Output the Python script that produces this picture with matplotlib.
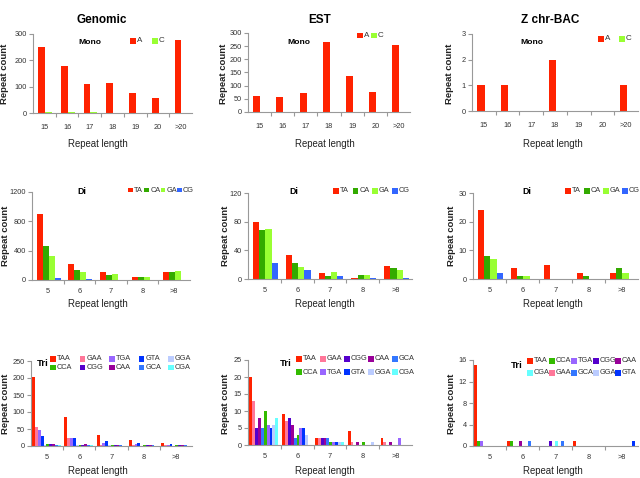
import matplotlib
matplotlib.use("Agg")
import matplotlib.pyplot as plt
from matplotlib.patches import Rectangle
from matplotlib import font_manager
import numpy as np

_names = {f.name for f in font_manager.fontManager.ttflist}
_fam = 'Liberation Sans Narrow' if 'Liberation Sans Narrow' in _names else 'Liberation Sans'
plt.rcParams['font.family'] = [_fam, 'DejaVu Sans']
NARROW = _fam == 'Liberation Sans Narrow'
K = 1.0 if NARROW else 0.85

W, H = 640, 478

# ---------------- data ----------------
mono_cats = ['15', '16', '17', '18', '19', '20', '>20']
len_cats = ['5', '6', '7', '8', '>8']

genomic_mono_A = [250, 177, 110, 115, 75, 57, 278]
genomic_mono_C = [2, 2, 2, 0, 0, 0, 0]
est_mono_A = [60, 57, 72, 267, 137, 75, 255]
est_mono_C = [0, 0, 0, 0, 0, 0, 0]
z_mono_A = [1, 1, 0, 2, 0, 0, 1]
z_mono_C = [0, 0, 0, 0, 0, 0, 0]

di_names = ['TA', 'CA', 'GA', 'CG']
genomic_di_TA = [904, 215, 105, 46, 114]
genomic_di_CA = [466, 137, 68, 36, 114]
genomic_di_GA = [324, 105, 78, 46, 128]
genomic_di_CG = [27, 10, 0, 0, 0]
est_di_TA = [80, 33, 9, 2, 18]
est_di_CA = [69, 23, 4, 6, 15]
est_di_GA = [70, 17, 10, 6, 12]
est_di_CG = [22, 12, 4, 1, 1]
z_di_TA = [24, 4, 5, 2, 2]
z_di_CA = [8, 1, 0, 1, 4]
z_di_GA = [7, 1, 0, 0, 2]
z_di_CG = [2, 0, 0, 0, 0]

genomic_tri_order = ['TAA', 'GAA', 'TGA', 'GTA', 'GGA', 'CCA', 'CGG', 'CAA', 'GCA', 'CGA']
genomic_tri_TAA = [203, 84, 32, 18, 10]
genomic_tri_GAA = [57, 23, 4, 2, 2]
genomic_tri_TGA = [47, 23, 9, 5, 4]
genomic_tri_GTA = [30, 24, 14, 9, 6]
genomic_tri_GGA = [3, 2, 2, 1, 1]
genomic_tri_CCA = [6, 3, 3, 2, 2]
genomic_tri_CGG = [6, 4, 3, 3, 3]
genomic_tri_CAA = [6, 6, 3, 3, 3]
genomic_tri_GCA = [3, 4, 2, 2, 2]
genomic_tri_CGA = [2, 3, 1, 1, 1]

est_tri_order = ['TAA', 'GAA', 'CGG', 'CAA', 'GCA', 'CCA', 'TGA', 'GTA', 'GGA', 'CGA']
est_tri_TAA = [20, 9, 2, 4, 2]
est_tri_GAA = [13, 7, 2, 1, 1]
est_tri_CGG = [5, 8, 2, 0, 0]
est_tri_CAA = [8, 6, 2, 1, 1]
est_tri_GCA = [5, 2, 2, 0, 0]
est_tri_CCA = [10, 3, 1, 1, 0]
est_tri_TGA = [6, 5, 1, 0, 2]
est_tri_GTA = [5, 5, 1, 0, 0]
est_tri_GGA = [6, 3, 1, 1, 0]
est_tri_CGA = [8, 0, 1, 0, 0]

z_tri_order = ['TAA', 'CCA', 'TGA', 'CGG', 'CAA', 'CGA', 'GAA', 'GCA', 'GGA', 'GTA']
z_tri_TAA = [15, 1, 0, 1, 0]
z_tri_CCA = [1, 1, 0, 0, 0]
z_tri_TGA = [1, 0, 0, 0, 0]
z_tri_CGG = [0, 0, 1, 0, 0]
z_tri_CAA = [0, 1, 0, 0, 0]
z_tri_CGA = [0, 0, 1, 0, 0]
z_tri_GAA = [0, 0, 0, 0, 0]
z_tri_GCA = [0, 1, 1, 0, 0]
z_tri_GGA = [0, 0, 0, 0, 0]
z_tri_GTA = [0, 0, 0, 0, 1]

colors = {
    'A': '#FF2200', 'C': '#99FF33',
    'TA': '#FF2200', 'CA': '#33AA00', 'GA': '#99FF33', 'CG': '#3366FF',
    'TAA': '#FF2200', 'GAA': '#FF7799', 'TGA': '#9966FF', 'GTA': '#0033FF',
    'GGA': '#BBCCFF', 'CCA': '#33BB00', 'CGG': '#5500CC', 'CAA': '#990099',
    'GCA': '#3377FF', 'CGA': '#66FFFF',
}

fig = plt.figure(figsize=(W / 100, H / 100), dpi=100)


def fx(x):
    return x / W


def fy(y):
    return 1 - y / H


def make_ax(l, r, t, b):
    return fig.add_axes([fx(l), fy(b), (r - l) / W, (b - t) / H])


def style(ax, cats, ymax, step, pad):
    n = len(cats)
    ax.set_xlim(-0.5, n - 0.5)
    ax.set_ylim(0, ymax)
    ax.set_yticks(np.arange(0, ymax + step / 2, step))
    ax.set_xticks(range(n))
    ax.set_xticklabels(cats)
    ax.set_xticks(np.arange(0.5, n - 0.5), minor=True)
    for s in ['top', 'right']:
        ax.spines[s].set_visible(False)
    for s in ['left', 'bottom']:
        ax.spines[s].set_color('#999999')
        ax.spines[s].set_linewidth(0.8)
    ax.tick_params(axis='x', which='major', length=0, pad=pad, labelsize=6.2 * K,
                   labelcolor='#333333')
    ax.tick_params(axis='x', which='minor', length=3, color='#999999', width=0.8)
    ax.tick_params(axis='y', length=3, color='#999999', width=0.8, pad=1.5,
                   labelsize=6.2 * K, labelcolor='#333333')


def legend(labels, x0, y0, dx, dy, ncol, fs=6.2, s=5.5):
    for k, lab in enumerate(labels):
        r, c = divmod(k, ncol)
        x = x0 + c * dx
        y = y0 + r * dy
        fig.add_artist(Rectangle((fx(x), fy(y + s / 2)), s / W, s / H,
                                 transform=fig.transFigure, facecolor=colors[lab],
                                 edgecolor='none'))
        fig.text(fx(x + s + 1.2), fy(y), lab, fontsize=fs * K, color='#333333',
                 ha='left', va='center')


# ---------- column titles ----------
for x, t in [(102, 'Genomic'), (320, 'EST'), (550, 'Z chr-BAC')]:
    fig.text(fx(x), fy(20), t, fontsize=10 * K, fontweight='bold', ha='center', va='center')

# ---------- row 1: Mono ----------
mono_panels = [
    ((33, 192, 34, 113), genomic_mono_A, genomic_mono_C, 300, 100, (90, 43), (130, 41, 22)),
    ((248, 410, 33, 112), est_mono_A, est_mono_C, 300, 50, (299, 43), (357, 35.5, 14)),
    ((472, 638, 34, 111), z_mono_A, z_mono_C, 3, 1, (532, 43), (598, 39, 21)),
]
for box, a, c, ymax, step, tpos, lg in mono_panels:
    ax = make_ax(*box)
    x = np.arange(len(mono_cats))
    ax.bar(x - 0.12, a, width=0.3, color=colors['A'])
    ax.bar(x + 0.18, c, width=0.3, color=colors['C'])
    style(ax, mono_cats, ymax, step, 8)
    fig.text(fx(tpos[0]), fy(tpos[1]), 'Mono', fontsize=7.2 * K, fontweight='bold',
             ha='center', va='center')
    legend(['A', 'C'], lg[0], lg[1], lg[2], 0, 2, fs=6.8)

# ---------- row 2: Di ----------
di_panels = [
    ((32, 190, 192, 280), [genomic_di_TA, genomic_di_CA, genomic_di_GA, genomic_di_CG],
     1200, 400, (82, 192), (128, 190, 16.3, 4.8)),
    ((248, 412, 193, 279), [est_di_TA, est_di_CA, est_di_GA, est_di_CG],
     120, 40, (294, 192), (333, 191, 19.7, 5.5)),
    ((473, 638, 193, 279), [z_di_TA, z_di_CA, z_di_GA, z_di_CG],
     30, 10, (527, 192), (565, 191, 19, 5.5)),
]
for box, series, ymax, step, tpos, lg in di_panels:
    ax = make_ax(*box)
    x = np.arange(len(len_cats))
    w = 0.19
    for k, (name, vals) in enumerate(zip(di_names, series)):
        ax.bar(x + (k - 1.5) * w + 0.03, vals, width=w, color=colors[name])
    style(ax, len_cats, ymax, step, 6)
    fig.text(fx(tpos[0]), fy(tpos[1]), 'Di', fontsize=7.5 * K, fontweight='bold',
             ha='center', va='center')
    legend(di_names, lg[0], lg[1], lg[2], 0, 4, s=lg[3])

# ---------- row 3: Tri ----------
genomic_tri = [genomic_tri_TAA, genomic_tri_GAA, genomic_tri_TGA, genomic_tri_GTA, genomic_tri_GGA,
               genomic_tri_CCA, genomic_tri_CGG, genomic_tri_CAA, genomic_tri_GCA, genomic_tri_CGA]
est_tri = [est_tri_TAA, est_tri_GAA, est_tri_CGG, est_tri_CAA, est_tri_GCA,
           est_tri_CCA, est_tri_TGA, est_tri_GTA, est_tri_GGA, est_tri_CGA]
z_tri = [z_tri_TAA, z_tri_CCA, z_tri_TGA, z_tri_CGG, z_tri_CAA,
         z_tri_CGA, z_tri_GAA, z_tri_GCA, z_tri_GGA, z_tri_GTA]

tri_panels = [
    ((31, 192, 361, 446), genomic_tri_order, genomic_tri, 250, 50, (43, 363), (50, 359, 29.5, 8.5)),
    ((248, 412, 360, 445), est_tri_order, est_tri, 25, 5, (286, 363), (296, 359, 24, 13)),
    ((473, 638, 360, 446), z_tri_order, z_tri, 16, 4, (517, 365), (527, 361, 22, 12)),
]
for box, order, series, ymax, step, tpos, lg in tri_panels:
    ax = make_ax(*box)
    x = np.arange(len(len_cats))
    w = 0.088
    for k, (name, vals) in enumerate(zip(order, series)):
        ax.bar(x - 0.5 + 0.04 + (k + 0.5) * w, vals, width=w, color=colors[name])
    style(ax, len_cats, ymax, step, 6)
    fig.text(fx(tpos[0]), fy(tpos[1]), 'Tri', fontsize=8 * K, fontweight='bold',
             ha='center', va='center')
    legend(order, lg[0], lg[1], lg[2], lg[3], 5)

# ---------- axis labels ----------
rows = [(34, 113, 144), (192, 280, 304), (361, 446, 471)]
ycount_x = [(5, 223, 450), (6, 225, 452), (6, 225, 452)]
xlen_x = [98, 325, 553]
for (t, b, ly), xs in zip(rows, ycount_x):
    for xc in xs:
        fig.text(fx(xc), fy((t + b) / 2), 'Repeat count', rotation=90, fontsize=8 * K,
                 fontweight='bold', ha='center', va='center', color='#222222')
    for xc in xlen_x:
        fig.text(fx(xc), fy(ly), 'Repeat length', fontsize=8.2 * K, ha='center',
                 va='center', color='#222222')

fig.savefig('out.png', dpi=100)
